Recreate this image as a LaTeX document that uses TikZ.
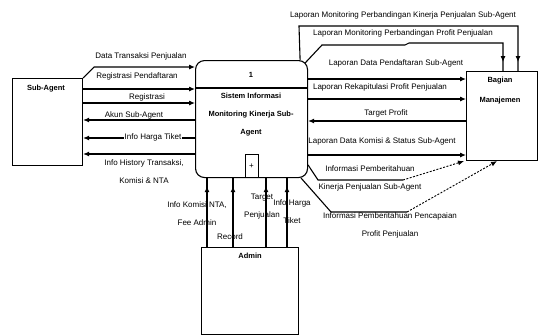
\documentclass[tikz,border=0pt]{standalone}
\usepackage{fontspec}
\setmainfont{Liberation Sans}
\usetikzlibrary{arrows.meta,decorations.markings}
\begin{document}
\begin{tikzpicture}[x=1pt,y=-1pt,
  entbox/.style={draw, line width=1.1pt, inner sep=0pt, anchor=north west},
  wire/.style={line width=1.1pt},
  flow/.style={wire, -{Latex[length=6pt,width=5pt]}},
  midtip/.style={wire, postaction={decorate}, decoration={markings, mark=at position -#1 with {\arrow{Latex[length=6pt,width=5pt]}}}},
  dflow/.style={line width=0.9pt, dash pattern=on 2pt off 1.5pt, -{Latex[length=6pt,width=5pt]}},
  lbl/.style={font=\fontsize{8}{18}\selectfont, align=center, inner sep=1pt},
  ttl/.style={font=\bfseries\fontsize{7.5}{18}\selectfont, align=center, inner sep=1pt},
]
\useasboundingbox (0,0) rectangle (539,335);

% entities
\node[entbox, minimum width=70pt, minimum height=87pt] (sub) at (12,78) {};
\node[ttl] (subt) at (46,89) {Sub-Agent};
\node[entbox, rounded corners=9pt, minimum width=112pt, minimum height=117pt] (proc) at (195,60) {};
\draw[wire] (proc.west |- 0,88) -- (proc.east |- 0,88);
\node[ttl] (pnum) at (251,75) {1};
\node[ttl] (ptxt) at (251,115) {Sistem Informasi\\Monitoring Kinerja Sub-\\Agent};
\node[draw, line width=1.1pt, minimum width=13pt, minimum height=23pt, inner sep=0pt, anchor=south, font=\fontsize{8}{10}\selectfont] (pls) at (proc.south) {+};
\node[entbox, minimum width=71pt, minimum height=89pt] (mgr) at (466,71) {};
\node[ttl, font=\bfseries\fontsize{7.5}{20}\selectfont] (mgrt) at (500,91) {Bagian\\Manajemen};
\node[entbox, minimum width=97pt, minimum height=87pt] (adm) at (201,247) {};
\node[ttl] (admt) at (250,256) {Admin};

% left flows
\draw[flow] (sub.north east) -- ++(11,-11) -- (proc.west |- 0,67);
\draw[flow] (sub.east |- 0,89) -- (proc.west |- 0,89);
\draw[flow] (sub.east |- 0,103) -- (proc.west |- 0,103);
\draw[flow] (proc.west |- 0,120) -- (sub.east |- 0,120);
\draw[flow] (proc.west |- 0,138) -- (sub.east |- 0,138);
\draw[flow] (proc.west |- 0,154) -- (sub.east |- 0,154);

\node[lbl] (t1) at (141,56) {Data Transaksi Penjualan};
\node[lbl] (t2) at (137,76) {Registrasi Pendaftaran};
\node[lbl] (t3) at (147,97) {Registrasi};
\node[lbl] (t4) at (134,115) {Akun Sub-Agent};
\node[lbl, fill=white] (t5) at (153,137) {Info Harga Tiket};
\node[lbl] (t6) at (144,172) {Info History Transaksi,\\Komisi \& NTA};

% right flows
\draw[midtip=9pt] ([xshift=-8pt]proc.north east) -- (299,26) -- (518,26) -- (518,0 |- mgr.north);
\draw[midtip=9pt] ([xshift=-3pt,yshift=-3pt]proc.north east) -- (322,45) -- (405,45) -- (409,43) -- (503,43) -- (503,0 |- mgr.north);
\draw[flow] (proc.east |- 0,79) -- (mgr.west |- 0,79);
\draw[flow] (proc.east |- 0,99) -- (mgr.west |- 0,99);
\draw[flow] (mgr.west |- 0,121) -- (proc.east |- 0,121);
\draw[flow] (proc.east |- 0,155) -- (mgr.west |- 0,155);
\coordinate (ka) at (403,180);
\coordinate (kb) at (407,212);
\draw[wire] (proc.east |- 0,165) -- (318,180) -- (ka);
\draw[dflow] (ka) -- ([xshift=-2pt]mgr.south west);
\draw[wire] ([xshift=-7pt]proc.south east) -- (331,212) -- (kb);
\draw[dflow] (kb) -- (497,0 |- mgr.south);

\node[lbl] (r1) at (403,15) {Laporan Monitoring Perbandingan Kinerja Penjualan Sub-Agent};
\node[lbl] (r2) at (403,33) {Laporan Monitoring Perbandingan Profit Penjualan};
\node[lbl] (r3) at (396,63) {Laporan Data Pendaftaran Sub-Agent};
\node[lbl] (r4) at (380,87) {Laporan Rekapitulasi Profit Penjualan};
\node[lbl] (r5) at (386,113) {Target Profit};
\node[lbl] (r6) at (382,141) {Laporan Data Komisi \& Status Sub-Agent};
\node[lbl] (r7) at (370,178) {Informasi Pemberitahuan\\Kinerja Penjualan Sub-Agent};
\node[lbl] (r8) at (390,225) {Informasi Pemberitahuan Pencapaian\\Profit Penjualan};

% bottom flows
\draw[midtip=8pt] (adm.north -| 207,0) -- (proc.south -| 207,0);
\draw[midtip=8pt] (adm.north -| 233,0) -- (proc.south -| 233,0);
\draw[midtip=8pt] (adm.north -| 266,0) -- (proc.south -| 266,0);
\draw[midtip=8pt] (adm.north -| 287,0) -- (proc.south -| 287,0);

\node[lbl] (b1) at (197,214) {Info Komisi NTA,\\Fee Admin};
\node[lbl] (b2) at (230,237) {Record};
\node[lbl] (b3) at (262,207) {Target\\Penjualan};
\node[lbl] (b4) at (292,212) {Info Harga\\Tiket};
\end{tikzpicture}
\end{document}
